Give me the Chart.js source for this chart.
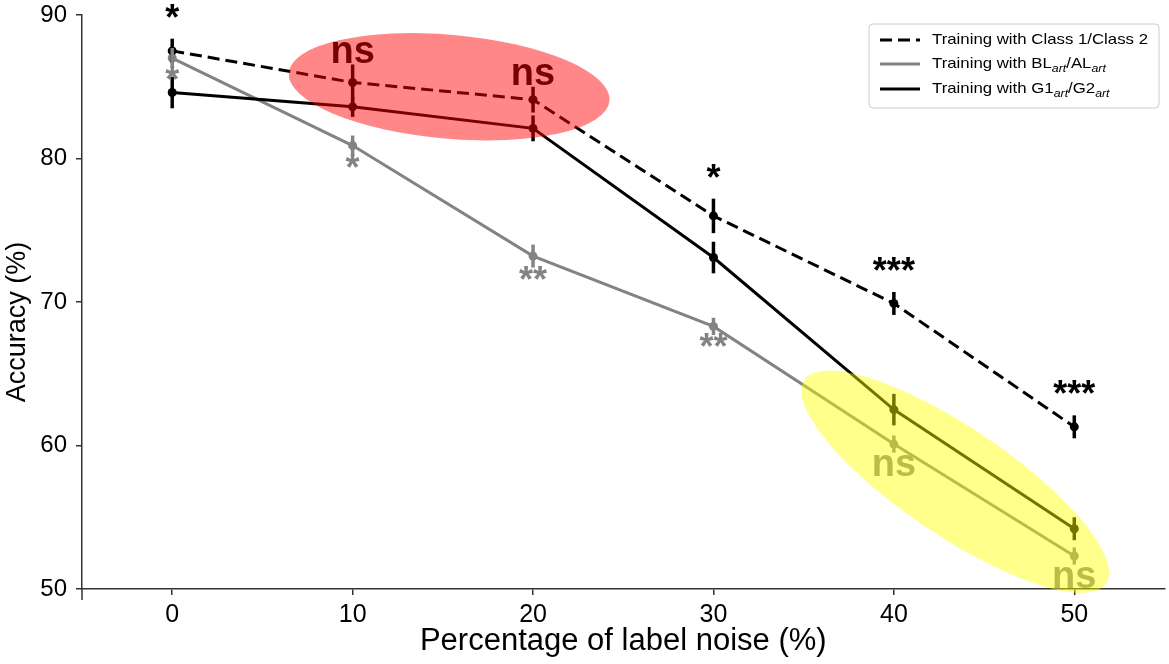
<!DOCTYPE html>
<html>
<head>
<meta charset="utf-8">
<script src="https://cdn.jsdelivr.net/npm/chart.js@4.4.1/dist/chart.umd.min.js"></script>
<style>
  html, body { margin: 0; padding: 0; background: #fff; }
</style>
</head>
<body>
<canvas id="accuracyChart" width="1169" height="664"></canvas>
<script>
const noiseLevels = [0, 10, 20, 30, 40, 50];
const classAcc = [87.5, 85.3, 84.1, 76.0, 69.9, 61.3];
const classErr = [0.85, 1.25, 0.9, 1.2, 0.8, 0.8];
const blAcc = [87.0, 80.9, 73.2, 68.3, 60.1, 52.3];
const blErr = [0.7, 0.7, 0.8, 0.6, 0.6, 0.6];
const g1Acc = [84.6, 83.6, 82.1, 73.1, 62.5, 54.2];
const g1Err = [1.1, 0.7, 0.9, 1.1, 1.1, 0.8];
const classMarks = ["*", "ns", "ns", "*", "***", "***"];
const blMarks = ["*", "*", "**", "**", "ns", "ns"];
const xTickValues = [0, 10, 20, 30, 40, 50];
const yTickValues = [50, 60, 70, 80, 90];

const FONT = "'Liberation Sans', Arial, Helvetica, sans-serif";

const series = [
  { label: "class", acc: classAcc, err: classErr, color: "#000000", dash: [12, 6] },
  { label: "bl", acc: blAcc, err: blErr, color: "#838383", dash: [] },
  { label: "g1", acc: g1Acc, err: g1Err, color: "#000000", dash: [] }
];

// highlight ellipses (centre in data units, radii in px)
const highlightZones = [
  { x: 15.35, y: 85.0, rx: 161, ry: 52, rot: 5, color: "rgba(255, 0, 0, 0.47)" },
  { x: 43.4, y: 57.47, rx: 182, ry: 54, rot: 34, color: "rgba(255, 255, 0, 0.45)" }
];

const errorBars = {
  id: "errorBars",
  afterDatasetsDraw(chart) {
    const { ctx, scales } = chart;
    ctx.save();
    ctx.lineWidth = 3.5;
    series.forEach((s) => {
      ctx.strokeStyle = s.color;
      noiseLevels.forEach((x, i) => {
        const px = scales.x.getPixelForValue(x);
        ctx.beginPath();
        ctx.moveTo(px, scales.y.getPixelForValue(s.acc[i] - s.err[i]));
        ctx.lineTo(px, scales.y.getPixelForValue(s.acc[i] + s.err[i]));
        ctx.stroke();
      });
    });
    ctx.restore();
  }
};

const annotations = {
  id: "annotations",
  afterDatasetsDraw(chart) {
    const { ctx, scales } = chart;
    ctx.save();
    ctx.textAlign = "center";
    ctx.textBaseline = "alphabetic";
    noiseLevels.forEach((x, i) => {
      const px = scales.x.getPixelForValue(x);
      const top = scales.y.getPixelForValue(classAcc[i] + classErr[i]);
      const m = classMarks[i];
      ctx.fillStyle = "#000";
      if (m === "ns") {
        ctx.font = "bold 38px " + FONT;
        ctx.fillText(m, px, top - 2);
      } else {
        ctx.font = "bold 36px " + FONT;
        ctx.fillText(m, px, top - 9);
      }
      const bottom = scales.y.getPixelForValue(blAcc[i] - blErr[i]);
      const g = blMarks[i];
      ctx.fillStyle = "#838383";
      if (g === "ns") {
        ctx.font = "bold 38px " + FONT;
        ctx.fillText(g, px, bottom + 23);
      } else {
        ctx.font = "bold 36px " + FONT;
        ctx.fillText(g, px, bottom + 24);
      }
    });

    // translucent highlight ellipses on top
    highlightZones.forEach((z) => {
      ctx.beginPath();
      ctx.ellipse(scales.x.getPixelForValue(z.x), scales.y.getPixelForValue(z.y),
        z.rx, z.ry, (z.rot * Math.PI) / 180, 0, Math.PI * 2);
      ctx.fillStyle = z.color;
      ctx.fill();
    });

    const a = chart.chartArea;
    // y spine continues a little below the x axis
    ctx.strokeStyle = "#333";
    ctx.lineWidth = 1.5;
    ctx.beginPath();
    ctx.moveTo(a.left, a.bottom);
    ctx.lineTo(a.left, a.bottom + 11);
    ctx.stroke();

    // y axis title
    ctx.save();
    ctx.translate(18, 322);
    ctx.rotate(-Math.PI / 2);
    ctx.fillStyle = "#000";
    ctx.font = "27px " + FONT;
    ctx.textAlign = "center";
    ctx.textBaseline = "middle";
    ctx.fillText("Accuracy (%)", 0, 0);
    ctx.restore();
    ctx.restore();
  }
};

function subText(ctx, parts, x, y) {
  let cx = x;
  parts.forEach(([t, sub]) => {
    ctx.font = sub ? "italic 11px " + FONT : "15px " + FONT;
    ctx.save();
    ctx.translate(cx, sub ? y + 5 : y);
    ctx.scale(1.12, 1);
    ctx.fillText(t, 0, 0);
    ctx.restore();
    cx += ctx.measureText(t).width * 1.12;
  });
}

const customLegend = {
  id: "customLegend",
  afterDraw(chart) {
    const { ctx } = chart;
    ctx.save();
    const bx = 869, by = 24, bw = 290, bh = 84;
    ctx.fillStyle = "rgba(255,255,255,0.85)";
    ctx.strokeStyle = "#cccccc";
    ctx.lineWidth = 1;
    ctx.beginPath();
    ctx.roundRect(bx, by, bw, bh, 4);
    ctx.fill();
    ctx.stroke();

    const rows = [
      { y: 40, s: series[0], parts: [["Training with Class 1/Class 2", false]] },
      { y: 64, s: series[1], parts: [["Training with BL", false], ["art", true], ["/AL", false], ["art", true]] },
      { y: 89, s: series[2], parts: [["Training with G1", false], ["art", true], ["/G2", false], ["art", true]] }
    ];
    ctx.textBaseline = "middle";
    ctx.textAlign = "left";
    rows.forEach((r) => {
      ctx.strokeStyle = r.s.color;
      ctx.lineWidth = 3;
      ctx.setLineDash(r.s.dash.length ? [12, 6] : []);
      ctx.beginPath();
      ctx.moveTo(880, r.y);
      ctx.lineTo(920, r.y);
      ctx.stroke();
      ctx.setLineDash([]);
      ctx.fillStyle = "#000";
      subText(ctx, r.parts, 932, r.y);
    });
    ctx.restore();
  }
};

const ctx = document.getElementById("accuracyChart");
new Chart(ctx, {
  type: "line",
  data: {
    datasets: series.map((s, k) => ({
      label: s.label,
      data: noiseLevels.map((x, i) => ({ x, y: s.acc[i] })),
      borderColor: s.color,
      backgroundColor: s.color,
      borderDash: s.dash,
      borderWidth: 3,
      pointRadius: 4.5,
      pointBorderWidth: 0,
      pointBackgroundColor: s.color,
      tension: 0,
      clip: false,
      order: k === 1 ? 3 : k === 2 ? 2 : 1
    }))
  },
  options: {
    responsive: false,
    animation: false,
    devicePixelRatio: 1,
    layout: { padding: { top: 15, right: 1, left: 0, bottom: 0 } },
    plugins: { legend: { display: false }, tooltip: { enabled: false } },
    scales: {
      x: {
        type: "linear",
        min: -5,
        max: 55,
        afterBuildTicks: (s) => { s.ticks = xTickValues.map((v) => ({ value: v })); },
        afterFit: (s) => { s.height = 75; s.paddingLeft = 0; s.paddingRight = 0; },
        grid: { drawOnChartArea: false, drawTicks: true, tickLength: 6, color: "#333", lineWidth: 1.5 },
        border: { color: "#333", width: 1.5 },
        ticks: { color: "#000", padding: 5, maxRotation: 0, font: { family: FONT, size: 25 } },
        title: { display: true, text: "Percentage of label noise (%)", color: "#000", font: { family: FONT, size: 31 }, padding: { top: 0, bottom: 4 } }
      },
      y: {
        min: 50,
        max: 90,
        afterBuildTicks: (s) => { s.ticks = yTickValues.map((v) => ({ value: v })); },
        afterFit: (s) => { s.width = 82; s.paddingTop = 0; s.paddingBottom = 0; },
        grid: { drawOnChartArea: false, drawTicks: true, tickLength: 6, color: "#333", lineWidth: 1.5 },
        border: { color: "#333", width: 1.5 },
        ticks: { color: "#000", padding: 9, font: { family: FONT, size: 24 } },
        title: { display: false }
      }
    }
  },
  plugins: [errorBars, annotations, customLegend]
});
</script>
</body>
</html>
